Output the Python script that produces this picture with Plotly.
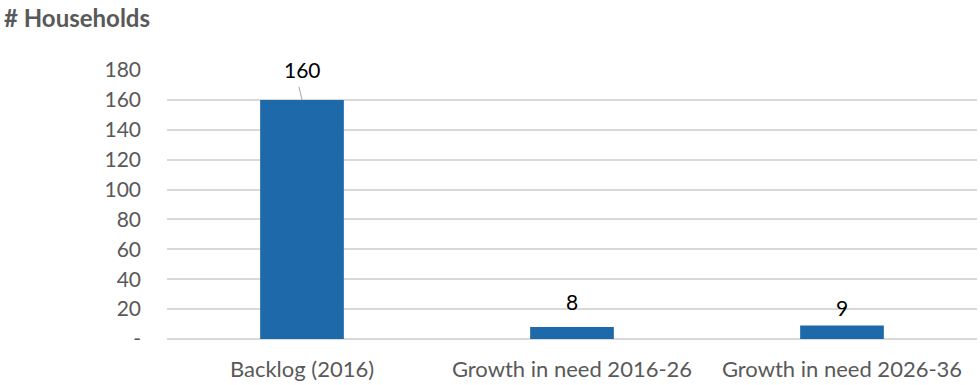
import plotly.graph_objects as go

categories = ["Backlog (2016)", "Growth in need 2016-26", "Growth in need 2026-36"]
values = [160, 8, 9]
label_text = ["160", "8", "9"]
y_tickvals = [0, 20, 40, 60, 80, 100, 120, 140, 160, 180]
y_ticktext = ["-", "20", "40", "60", "80", "100", "120", "140", "160", "180"]

FONT = "Lato"
BAR = "#1E69AA"
GRAY = "#595959"

ML, MR, MT, MB = 167, 3, 70, 44
W, H = 980, 385
PW, PH = W - ML - MR, H - MT - MB

fig = go.Figure()
fig.add_trace(go.Bar(
    x=categories, y=values, marker=dict(color=BAR, line=dict(width=0)),
    hoverinfo="skip", showlegend=False,
))

label_shift = [30, 26, 18]
for c, v, t, s in zip(categories, values, label_text, label_shift):
    fig.add_annotation(x=c, y=v, text=t, showarrow=False, yanchor="middle",
                       yshift=s, font=dict(family=FONT, size=21, color="#000000"))

# leader line for the 160 label
fig.add_shape(type="line", xref="x", yref="y", xsizemode="pixel", ysizemode="pixel",
              xanchor=0, yanchor=values[0], x0=-3, x1=0, y0=13, y1=0,
              line=dict(color="#A6A6A6", width=1))

fig.add_annotation(
    text="<b># Households</b>", xref="paper", yref="paper",
    x=(2 - ML) / PW, y=1 + (MT - 17) / PH,
    xanchor="left", yanchor="middle", showarrow=False,
    font=dict(family=FONT, size=24, color=GRAY),
)

fig.update_layout(
    width=W, height=H,
    margin=dict(l=ML, r=MR, t=MT, b=MB),
    paper_bgcolor="white", plot_bgcolor="white",
    bargap=0.69,
    font=dict(family=FONT, size=21, color=GRAY),
)

fig.update_xaxes(showgrid=False, showline=False, zeroline=False,
                 tickfont=dict(family=FONT, size=22, color=GRAY),
                 ticklabelstandoff=15)
fig.update_yaxes(range=[0, 180], tickvals=y_tickvals, ticktext=y_ticktext,
                 showgrid=True, gridcolor="#D9D9D9", gridwidth=1.5,
                 zeroline=True, zerolinecolor="#D9D9D9", zerolinewidth=1.5,
                 showline=False, tickfont=dict(family=FONT, size=21, color=GRAY),
                 ticklabelstandoff=25)

fig.write_html("out.html",
               config={"displayModeBar": False},
               post_script="document.body.style.margin='0';")
